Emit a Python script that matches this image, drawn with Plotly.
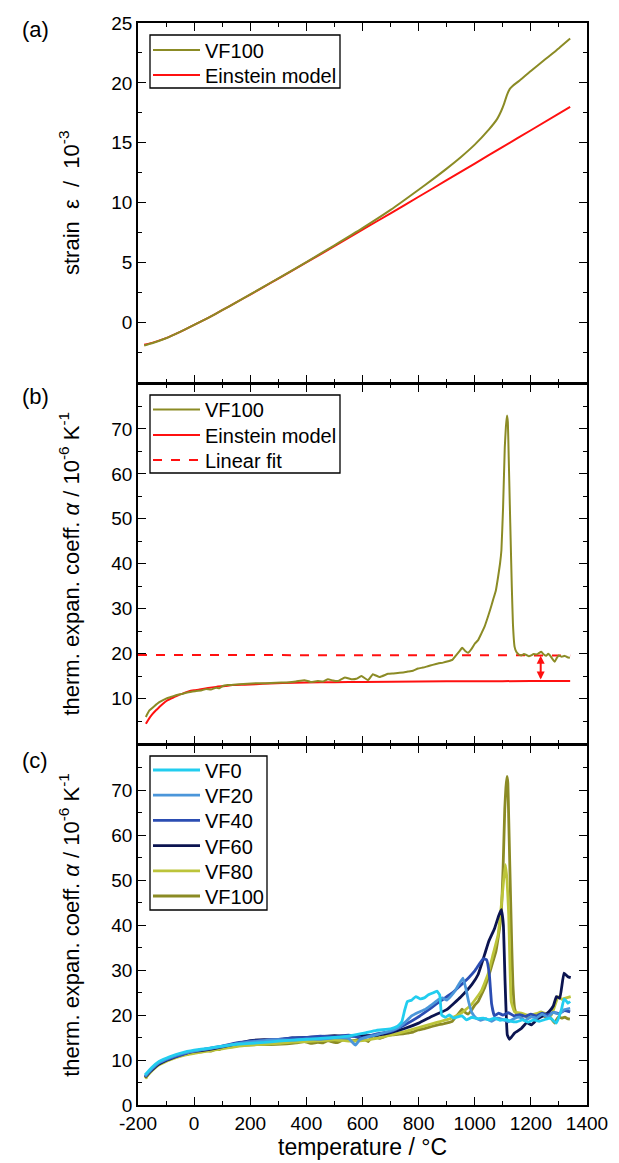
import plotly.graph_objects as go

# ---------------- data ----------------
# (a) strain
T_strain_vf100 = [-178, -150, -100, -50, 0, 50, 100, 150, 200, 250, 300, 400, 500, 600, 700, 800, 850, 900, 950,
                  1000, 1050, 1080, 1095, 1105, 1115, 1125, 1135, 1160, 1200, 1250, 1300, 1340]
eps_vf100 = [-1.91, -1.72, -1.31, -0.78, -0.20, 0.40, 1.03, 1.69, 2.35, 3.02, 3.69, 5.05, 6.45, 7.88, 9.40, 11.08,
             11.95, 12.85, 13.80, 14.85, 16.10, 17.00, 17.70, 18.30, 19.00, 19.50, 19.75, 20.20, 21.00, 21.95, 22.90, 23.70]
T_strain_ein = [-178, -150, -100, -50, 0, 50, 100, 150, 200, 250, 300, 400, 500, 600, 700, 800, 900, 1000, 1100, 1200, 1340]
eps_ein = [-1.85, -1.69, -1.30, -0.78, -0.20, 0.40, 1.03, 1.68, 2.34, 3.00, 3.67, 5.02, 6.38, 7.75, 9.12, 10.50,
           11.88, 13.27, 14.66, 16.05, 18.00]

# (b) thermal expansion coefficient, VF100 (also used in c)
T_vf100 = [-172, -160, -142, -124, -100, -85, -65, -45, -29, -10, 7, 25, 42, 60, 78, 90, 102, 120, 140, 161, 190,
           220, 255, 292, 330, 363, 393, 415, 441, 460, 477, 495, 513, 537, 560, 578, 596, 620, 637, 661, 691, 710,
           726, 745, 762, 780, 798, 816, 833, 850, 869, 887, 905, 920, 929, 945, 955, 966, 976, 988, 1000, 1012,
           1023, 1035, 1047, 1056, 1065, 1075, 1083, 1090, 1095, 1101, 1107, 1111, 1115, 1118, 1121, 1125, 1128,
           1132, 1136, 1142, 1148, 1157, 1166, 1175, 1184, 1193, 1201, 1210, 1220, 1228, 1237, 1246, 1255, 1262,
           1267, 1276, 1285, 1292, 1299, 1310, 1321, 1330, 1339]
a_vf100 = [5.9, 7.3, 8.3, 9.2, 10.0, 10.3, 10.75, 11.0, 11.3, 11.5, 11.7, 11.8, 12.1, 12.0, 12.4, 12.3, 12.8, 13.0,
           13.1, 13.2, 13.3, 13.4, 13.4, 13.5, 13.6, 13.8, 14.1, 13.7, 13.9, 13.8, 14.3, 14.0, 13.9, 14.7, 14.3,
           14.4, 15.0, 14.1, 15.4, 14.8, 15.5, 15.6, 15.7, 15.8, 16.0, 16.2, 16.7, 16.9, 17.2, 17.5, 17.8, 18.0,
           18.3, 18.6, 19.3, 20.5, 21.3, 20.6, 20.2, 21.0, 22.2, 23.0, 24.4, 26.0, 28.2, 30.0, 31.9, 34.0, 37.0,
           40.0, 43.0, 52.6, 65.9, 70.5, 73.0, 71.5, 63.7, 53.0, 45.2, 35.0, 26.7, 21.5, 20.4, 19.8, 19.6, 19.9,
           19.7, 19.4, 19.6, 19.9, 19.8, 20.1, 20.4, 19.8, 19.5, 20.0, 19.7, 18.9, 18.2, 19.0, 19.6, 19.3, 19.5,
           19.2, 19.1]
T_ein = [-172, -160, -148, -136, -124, -110, -100, -88, -70, -55, -41, -20, 0, 19, 50, 78, 110, 137, 180, 220, 270,
         315, 400, 500, 600, 800, 1000, 1200, 1340]
a_ein = [4.4, 5.6, 6.6, 7.4, 8.1, 8.9, 9.4, 9.8, 10.4, 10.8, 11.1, 11.6, 11.85, 12.0, 12.35, 12.6, 12.8, 13.0, 13.1,
         13.2, 13.35, 13.45, 13.6, 13.65, 13.7, 13.8, 13.85, 13.9, 13.93]
T_fit = [-200, 1340]
a_fit = [19.7, 19.6]
arrow_T = 1235
arrow_top = 19.5
arrow_bottom = 13.9

# (c) series
T_vf0 = [-175, -150, -125, -100, -75, -50, -25, 0, 50, 100, 150, 200, 250, 300, 350, 400, 450, 500, 550, 600, 650,
         700, 725, 740, 750, 760, 775, 790, 805, 820, 835, 850, 865, 875, 882, 895, 910, 925, 940, 955, 970, 990,
         1010, 1030, 1050, 1070, 1090, 1110, 1130, 1150, 1170, 1190, 1210, 1230, 1250, 1270, 1290, 1300, 1310,
         1318, 1325, 1332, 1340]
a_vf0 = [6.7, 8.4, 9.7, 10.4, 11.0, 11.5, 11.9, 12.2, 12.6, 13.1, 13.5, 13.7, 13.9, 14.2, 14.4, 14.6, 14.8, 15.0,
         15.3, 15.9, 16.6, 16.9, 17.5, 18.5, 21.0, 23.0, 23.3, 24.1, 23.6, 23.8, 24.5, 24.9, 25.3, 24.5, 20.0,
         19.5, 20.0, 19.3, 19.6, 19.8, 18.9, 19.5, 19.2, 19.3, 18.9, 19.3, 18.8, 19.0, 18.6, 18.5, 18.9, 18.4,
         18.9, 18.6, 19.0, 19.3, 18.2, 19.5, 21.5, 23.5, 23.2, 22.6, 23.0]
T_vf20 = [-175, -150, -125, -100, -75, -50, -25, 0, 50, 100, 150, 200, 250, 300, 350, 400, 450, 500, 550, 575, 590,
          600, 650, 700, 725, 750, 775, 800, 825, 850, 870, 885, 900, 915, 930, 945, 958, 968, 978, 990, 1005,
          1020, 1040, 1060, 1080, 1100, 1120, 1140, 1160, 1180, 1200, 1220, 1240, 1260, 1280, 1300, 1320, 1340]
a_vf20 = [6.4, 8.1, 9.4, 10.2, 10.8, 11.3, 11.7, 12.0, 12.5, 13.0, 13.6, 14.0, 14.3, 14.5, 14.4, 14.7, 14.6, 14.9,
          14.8, 13.3, 14.5, 14.8, 15.6, 16.5, 17.1, 18.3, 19.8, 20.6, 21.3, 22.4, 23.4, 23.8, 23.3, 24.2, 25.4,
          27.0, 28.2, 26.0, 23.0, 20.5, 19.3, 18.8, 19.2, 18.6, 19.3, 19.0, 18.5, 19.2, 19.5, 18.8, 19.6, 19.3,
          20.2, 19.5, 20.6, 20.2, 21.2, 21.5]
T_vf40 = [-175, -150, -125, -100, -75, -50, -25, 0, 50, 100, 150, 200, 250, 300, 350, 400, 450, 500, 550, 600, 650,
          700, 750, 800, 830, 860, 890, 920, 950, 980, 1000, 1015, 1030, 1042, 1052, 1060, 1070, 1085, 1100, 1120,
          1140, 1160, 1180, 1200, 1220, 1240, 1260, 1280, 1300, 1320, 1340]
a_vf40 = [6.3, 8.0, 9.3, 10.0, 10.6, 11.0, 11.6, 12.0, 12.5, 13.1, 13.8, 14.2, 14.4, 14.6, 14.9, 15.0, 15.3, 15.2,
          15.5, 14.9, 15.8, 16.3, 17.8, 19.6, 20.9, 22.3, 23.6, 24.9, 26.6, 28.4, 29.8, 31.2, 32.5, 32.3, 29.0,
          22.5, 19.8, 20.4, 20.0, 20.5, 19.8, 20.1, 19.7, 20.2, 19.8, 20.4, 20.0, 20.6, 20.3, 21.0, 20.7]
T_vf60 = [-175, -150, -125, -100, -75, -50, -25, 0, 50, 100, 150, 200, 250, 300, 350, 400, 450, 500, 550, 600, 650,
          700, 750, 800, 850, 900, 950, 990, 1012, 1035, 1050, 1071, 1085, 1095, 1102, 1108, 1116, 1124, 1142,
          1166, 1185, 1202, 1225, 1249, 1265, 1280, 1291, 1303, 1318, 1332, 1342]
a_vf60 = [6.2, 7.8, 9.1, 9.9, 10.5, 11.1, 11.6, 11.9, 12.3, 12.9, 13.6, 14.3, 14.5, 14.4, 14.9, 15.0, 15.2, 15.4,
          15.3, 15.4, 15.5, 16.1, 17.0, 18.2, 19.8, 21.2, 24.0, 26.8, 29.0, 33.4, 36.4, 39.3, 42.0, 43.4, 40.0,
          27.5, 15.6, 14.6, 16.0, 17.0, 18.3, 17.8, 19.2, 20.0, 20.8, 22.0, 24.1, 23.7, 29.3, 28.5, 28.3]
T_vf80 = [-175, -150, -125, -100, -75, -50, -25, 0, 50, 100, 150, 200, 250, 300, 350, 400, 450, 500, 550, 600, 650,
          700, 750, 800, 850, 880, 917, 952, 988, 1023, 1047, 1065, 1083, 1095, 1103, 1109, 1115, 1121, 1130,
          1142, 1166, 1184, 1202, 1220, 1237, 1255, 1273, 1285, 1297, 1310, 1320, 1342]
a_vf80 = [5.9, 7.6, 8.9, 9.7, 10.3, 10.8, 11.2, 11.5, 12.0, 12.5, 13.0, 13.3, 13.5, 13.7, 14.0, 14.1, 14.3, 14.5,
          14.2, 14.3, 14.8, 15.5, 16.3, 17.2, 18.1, 18.6, 19.3, 20.4, 22.3, 25.3, 29.0, 33.4, 37.8, 44.5, 50.0,
          53.4, 50.0, 42.3, 23.0, 20.7, 20.4, 20.0, 20.0, 20.3, 20.7, 20.2, 20.0, 22.0, 24.1, 23.5, 23.7, 24.1]

series_c = [
    ("VF0", T_vf0, a_vf0, "#22CDEF"),
    ("VF20", T_vf20, a_vf20, "#4B96DA"),
    ("VF40", T_vf40, a_vf40, "#2B4DB2"),
    ("VF60", T_vf60, a_vf60, "#0B1450"),
    ("VF80", T_vf80, a_vf80, "#BCC43A"),
    ("VF100", T_vf100, a_vf100, "#8B8B25"),
]

x_ticks = [-200, 0, 200, 400, 600, 800, 1000, 1200, 1400]
x_ticklabels = ["-200", "0", "200", "400", "600", "800", "1000", "1200", "1400"]

OLIVE = "#8B8B25"
RED = "#FF1010"
FONT = "Liberation Sans, Arial, sans-serif"

# ---------------- geometry helpers (page pixels -> paper coords) ----------------
PL, PR, PT, PB = 130.0, 579.0, 15.0, 1097.0
def xp(px):
    return (px - PL) / (PR - PL)
def yp(py):
    return 1 - (py - PT) / (PB - PT)

# ---------------- figure ----------------
fig = go.Figure()

# (a)
fig.add_trace(go.Scatter(x=T_strain_ein, y=eps_ein, mode="lines", name="Einstein model",
                         line=dict(color=RED, width=2, shape="spline", smoothing=0.6),
                         xaxis="x", yaxis="y", showlegend=False))
fig.add_trace(go.Scatter(x=T_strain_vf100, y=eps_vf100, mode="lines", name="VF100",
                         line=dict(color=OLIVE, width=2, shape="spline", smoothing=0.6),
                         xaxis="x", yaxis="y", showlegend=False))

# (b)
fig.add_trace(go.Scatter(x=T_fit, y=a_fit, mode="lines", name="Linear fit",
                         line=dict(color=RED, width=2, dash="dash"),
                         xaxis="x2", yaxis="y2", showlegend=False))
fig.add_trace(go.Scatter(x=T_ein, y=a_ein, mode="lines", name="Einstein model",
                         line=dict(color=RED, width=2, shape="spline", smoothing=0.6),
                         xaxis="x2", yaxis="y2", showlegend=False))
fig.add_trace(go.Scatter(x=T_vf100, y=a_vf100, mode="lines", name="VF100",
                         line=dict(color=OLIVE, width=2, shape="spline", smoothing=0.3),
                         xaxis="x2", yaxis="y2", showlegend=False))

# (c)  drawn from VF100 up to VF0 so that VF0 lies on top
for name, tx, ay, col in reversed(series_c):
    fig.add_trace(go.Scatter(x=tx, y=ay, mode="lines", name=name,
                             line=dict(color=col, width=2.8, shape="spline", smoothing=0.3),
                             xaxis="x3", yaxis="y3", showlegend=False))

# domains; lower panels nudged so shared frame lines coincide
H = PB - PT
LW = 1.5
dom_a = [yp(376) + LW / H, 1.0]
dom_b = [yp(737) + LW / H, yp(376)]
dom_c = [0.0, yp(737)]

tickfont = dict(family=FONT, size=19, color="black")
ytitlefont = dict(family=FONT, size=22, color="black")
xtitlefont = dict(family=FONT, size=23, color="black")

def xaxis(anchor, show_labels, title=None):
    d = dict(domain=[0, 1], anchor=anchor, range=[-200, 1400], tickmode="array", tickvals=x_ticks,
             ticktext=x_ticklabels,
             ticks="inside", ticklen=8, tickwidth=1.3, tickcolor="black",
             minor=dict(ticks="inside", ticklen=4, tickwidth=1.3, tickcolor="black",
                        tickmode="linear", dtick=100, tick0=-200),
             showline=True, linecolor="black", linewidth=LW, mirror="allticks", automargin=False,
             showgrid=False, zeroline=False, showticklabels=show_labels, tickfont=tickfont)
    if title:
        d["title"] = dict(text=title, font=xtitlefont, standoff=4)
    return d

def yaxis(anchor, dom, rng, tickvals, minor_dtick, title):
    return dict(domain=dom, anchor=anchor, range=rng, tickmode="array", tickvals=tickvals,
                ticks="inside", ticklen=8, tickwidth=1.3, tickcolor="black",
                minor=dict(ticks="inside", ticklen=4, tickwidth=1.3, tickcolor="black",
                           tickmode="linear", tick0=0, dtick=minor_dtick),
                showline=True, linecolor="black", linewidth=LW, mirror="allticks", automargin=False,
                showgrid=False, zeroline=False, tickfont=tickfont,
                title=dict(text=title, font=ytitlefont, standoff=26))

alpha_title = "therm. expan. coeff. <i>α</i> / 10<sup>-6</sup> K<sup>-1</sup>"

fig.update_layout(
    template="none",
    width=619, height=1163,
    margin=dict(l=int(PL), r=619 - int(PR), t=int(PT), b=1163 - int(PB), autoexpand=False),
    paper_bgcolor="white", plot_bgcolor="white",
    font=dict(family=FONT, color="black"),
    xaxis=xaxis("y", False),
    xaxis2=xaxis("y2", False),
    xaxis3=xaxis("y3", True, "temperature / °C"),
    yaxis=yaxis("x", dom_a, [-5, 25], [0, 5, 10, 15, 20, 25], 2.5, "strain  ε  /  10<sup>-3</sup>"),
    yaxis2=yaxis("x2", dom_b, [0, 80], [10, 20, 30, 40, 50, 60, 70], 5, alpha_title),
    yaxis3=yaxis("x3", dom_c, [0, 80], [0, 10, 20, 30, 40, 50, 60, 70], 5, alpha_title),
    showlegend=False,
)

# ---------------- legends (boxes, line samples, labels) ----------------
legend_specs = [
    (142, 332, 27, 80, [("VF100", OLIVE, 2, "solid", 42), ("Einstein model", RED, 2, "solid", 67)]),
    (142, 332, 387, 465, [("VF100", OLIVE, 2, "solid", 401.5), ("Einstein model", RED, 2, "solid", 427),
                          ("Linear fit", RED, 2, "dash", 452)]),
    (142, 259, 748, 902, [(n, c, 2.8, "solid", 762 + 25.2 * k) for k, (n, _, _, c) in enumerate(series_c)]),
]
for bx0, bx1, by0, by1, entries in legend_specs:
    fig.add_shape(type="rect", xref="paper", yref="paper", x0=xp(bx0), x1=xp(bx1), y0=yp(by0), y1=yp(by1),
                  line=dict(color="black", width=1.3), fillcolor="rgba(0,0,0,0)")
    for label, col, w, dash, ly in entries:
        fig.add_shape(type="line", xref="paper", yref="paper", x0=xp(145), x1=xp(192), y0=yp(ly), y1=yp(ly),
                      line=dict(color=col, width=w, dash=dash))
        fig.add_annotation(text=label, x=xp(195), y=yp(ly + 1), xref="paper", yref="paper",
                           xanchor="left", yanchor="middle", showarrow=False,
                           font=dict(family=FONT, size=20, color="black"))

# double-headed arrow in (b)
fig.add_annotation(x=arrow_T, y=arrow_top, ax=arrow_T, ay=arrow_bottom, xref="x2", yref="y2",
                   axref="x2", ayref="y2", text="", showarrow=True, arrowhead=2, arrowsize=0.8,
                   arrowwidth=2, arrowcolor=RED, arrowside="end+start")

# panel labels
for lab, ly in [("(a)", 22), ("(b)", 388), ("(c)", 752)]:
    fig.add_annotation(text=lab, x=xp(12), y=yp(ly), xref="paper", yref="paper", xanchor="left", yanchor="middle",
                       showarrow=False, font=dict(family=FONT, size=22, color="black"))

fig.write_html("out.html")
